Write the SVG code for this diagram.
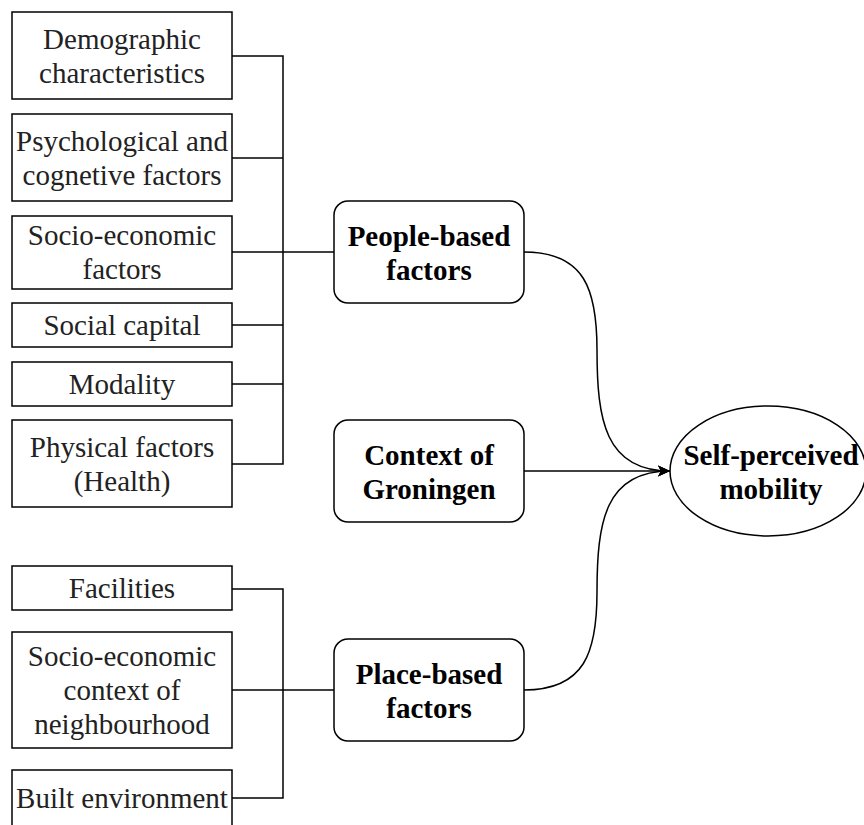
<svg xmlns="http://www.w3.org/2000/svg" width="864" height="825" viewBox="0 0 864 825">
<defs>
<style>
.box{fill:#fff;stroke:#000;stroke-width:1.5}
.t{font-family:"Liberation Serif","Times New Roman",serif;font-size:29px;fill:#222;text-anchor:middle}
.b{font-family:"Liberation Serif","Times New Roman",serif;font-size:29px;font-weight:bold;fill:#000;text-anchor:middle}
.ln{fill:none;stroke:#000;stroke-width:1.5}
</style>
<marker id="arr" viewBox="0 0 12 12" refX="12" refY="6" markerWidth="12" markerHeight="12" markerUnits="userSpaceOnUse" orient="auto">
<path d="M0,0.5 L12,6 L0,11.5 L3,6 Z" fill="#000"/>
</marker>
</defs>
<rect width="864" height="825" fill="#fff"/>
<g id="connectors">
<polyline class="ln" points="232,56 283,56 283,464 232,464"/>
<line class="ln" x1="232" y1="158" x2="283" y2="158"/>
<line class="ln" x1="232" y1="252" x2="334" y2="252"/>
<line class="ln" x1="232" y1="325" x2="283" y2="325"/>
<line class="ln" x1="232" y1="384" x2="283" y2="384"/>
<polyline class="ln" points="232,589 283,589 283,798 232,798"/>
<line class="ln" x1="232" y1="690" x2="334" y2="690"/>
<path class="ln" d="M524,252 C585,252 597,290 597,350 C597,420 605,471 670,471" marker-end="url(#arr)"/>
<path class="ln" d="M524,690 C585,690 597,652 597,592 C597,522 605,471 670,471" marker-end="url(#arr)"/>
<line class="ln" x1="524" y1="471" x2="670" y2="471" marker-end="url(#arr)"/>
</g>
<g id="demographic"><rect class="box" x="12" y="12" width="220" height="87"/><text class="t" x="122" y="49">Demographic</text><text class="t" x="122" y="83">characteristics</text></g>
<g id="psychological"><rect class="box" x="12" y="114" width="220" height="87"/><text class="t" x="122" y="151">Psychological and</text><text class="t" x="122" y="185">cognetive factors</text></g>
<g id="socioeconomic"><rect class="box" x="12" y="216" width="220" height="73"/><text class="t" x="122" y="245">Socio-economic</text><text class="t" x="122" y="279">factors</text></g>
<g id="socialcapital"><rect class="box" x="12" y="303" width="220" height="44"/><text class="t" x="122" y="335">Social capital</text></g>
<g id="modality"><rect class="box" x="12" y="362" width="220" height="44"/><text class="t" x="122" y="394">Modality</text></g>
<g id="physical"><rect class="box" x="12" y="420" width="220" height="87"/><text class="t" x="122" y="457">Physical factors</text><text class="t" x="122" y="491">(Health)</text></g>
<g id="facilities"><rect class="box" x="12" y="566" width="220" height="44"/><text class="t" x="122" y="598">Facilities</text></g>
<g id="neighbourhood"><rect class="box" x="12" y="632" width="220" height="116"/><text class="t" x="122" y="666">Socio-economic</text><text class="t" x="122" y="700">context of</text><text class="t" x="122" y="734">neighbourhood</text></g>
<g id="built"><rect class="box" x="12" y="770" width="220" height="60"/><text class="t" x="122" y="808">Built environment</text></g>
<g id="people"><rect class="box" x="334" y="201" width="190" height="102" rx="14"/><text class="b" x="429" y="246">People-based</text><text class="b" x="429" y="280">factors</text></g>
<g id="context"><rect class="box" x="334" y="420" width="190" height="102" rx="14"/><text class="b" x="429" y="465">Context of</text><text class="b" x="429" y="499">Groningen</text></g>
<g id="place"><rect class="box" x="334" y="639" width="190" height="102" rx="14"/><text class="b" x="429" y="684">Place-based</text><text class="b" x="429" y="718">factors</text></g>
<g id="mobility"><ellipse class="box" cx="768" cy="471" rx="98" ry="65"/><text class="b" x="771" y="465">Self-perceived</text><text class="b" x="771" y="499">mobility</text></g>
</svg>
